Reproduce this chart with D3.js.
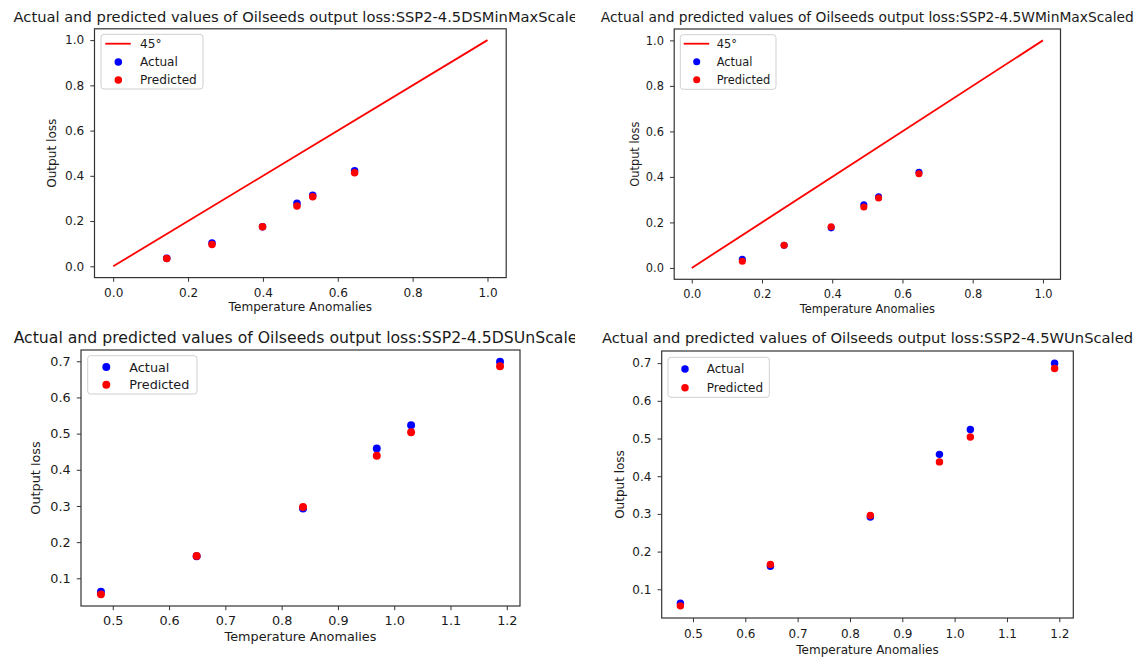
<!DOCTYPE html>
<html>
<head>
<meta charset="utf-8">
<script src="https://cdn.jsdelivr.net/npm/d3@7"></script>
<style>
  body { margin: 0; background: #fff; }
  text { font-family: "DejaVu Sans", sans-serif; fill: #1a1a1a; }
</style>
</head>
<body>
<div id="chart"></div>
<script>
// values
var tempDSMinMax   = [0.143, 0.264, 0.399, 0.491, 0.533, 0.645];
var actualDSMinMax = [0.035, 0.103, 0.175, 0.279, 0.314, 0.422];
var predDSMinMax   = [0.034, 0.096, 0.175, 0.267, 0.308, 0.414];

var tempWMinMax    = [0.144, 0.263, 0.397, 0.490, 0.532, 0.647];
var actualWMinMax  = [0.038, 0.100, 0.176, 0.278, 0.313, 0.420];
var predWMinMax    = [0.029, 0.100, 0.181, 0.268, 0.307, 0.414];

var tempDSUn       = [0.479, 0.649, 0.838, 0.969, 1.030, 1.188];
var actualDSUn     = [0.063, 0.161, 0.293, 0.459, 0.523, 0.699];
var predDSUn       = [0.0556, 0.162, 0.297, 0.439, 0.504, 0.686];

var tempWUn        = [0.476, 0.648, 0.839, 0.971, 1.030, 1.191];
var actualWUn      = [0.063, 0.161, 0.292, 0.458, 0.524, 0.700];
var predWUn        = [0.056, 0.166, 0.296, 0.438, 0.504, 0.686];

var diagLine = [0, 1];
var scaledTicks = [0.0, 0.2, 0.4, 0.6, 0.8, 1.0];
var unXTicks = [0.5, 0.6, 0.7, 0.8, 0.9, 1.0, 1.1, 1.2];
var unYTicks = [0.1, 0.2, 0.3, 0.4, 0.5, 0.6, 0.7];

var titlePrefix = "Actual and predicted values of Oilseeds output loss:";

var panels = [
  { title: titlePrefix + "SSP2-4.5DSMinMaxScaled", x: tempDSMinMax, actual: actualDSMinMax, pred: predDSMinMax,
    diag: true, xTicks: scaledTicks, yTicks: scaledTicks, clip: true,
    box: { l: 94.5, t: 28.8, r: 506.2, b: 277.6 }, titleY: 22, titleFs: 14.7, fs: 12.1,
    xlabOff: 33, ylabOff: 38.3, tickBase: 19,
    legend: { x: 101, y: 34.3, w: 102, h: 54.7, mx: 17.3, tx: 39, r0: 9.4, gap: 18.2 } },
  { title: titlePrefix + "SSP2-4.5WMinMaxScaled", x: tempWMinMax, actual: actualWMinMax, pred: predWMinMax,
    diag: true, xTicks: scaledTicks, yTicks: scaledTicks, clip: false,
    box: { l: 674.2, t: 29, r: 1060.5, b: 279.3 }, titleY: 22, titleFs: 13.8, fs: 11.4,
    xlabOff: 34, ylabOff: 35.5, tickBase: 19,
    legend: { x: 680.3, y: 34.7, w: 95.7, h: 54.6, mx: 16.4, tx: 36.4, r0: 9, gap: 18 } },
  { title: titlePrefix + "SSP2-4.5DSUnScaled", x: tempDSUn, actual: actualDSUn, pred: predDSUn,
    diag: false, xTicks: unXTicks, yTicks: unYTicks, clip: true,
    box: { l: 81, t: 350, r: 520, b: 606 }, titleY: 342.7, titleFs: 15.7, fs: 12.8,
    xlabOff: 34.7, ylabOff: 40.8, tickBase: 19,
    legend: { x: 87.7, y: 355.7, w: 109.3, h: 38.3, mx: 18.6, tx: 41.6, r0: 11.3, gap: 17.7 } },
  { title: titlePrefix + "SSP2-4.5WUnScaled", x: tempWUn, actual: actualWUn, pred: predWUn,
    diag: false, xTicks: unXTicks, yTicks: unYTicks, clip: false,
    box: { l: 661.7, t: 351, r: 1073.3, b: 618 }, titleY: 343.3, titleFs: 14.7, fs: 12.0,
    xlabOff: 36.3, ylabOff: 38.2, tickBase: 20.3,
    legend: { x: 668, y: 357.3, w: 101.3, h: 40, mx: 17, tx: 38.7, r0: 11.7, gap: 18.7 } }
];

var svg = d3.select("#chart").append("svg")
    .attr("width", 1141)
    .attr("height", 661);

svg.append("rect").attr("width", 1141).attr("height", 661).attr("fill", "#fff");

// the right-hand figures sit on top of the long left titles
svg.append("defs").append("clipPath").attr("id", "leftClip")
  .append("rect").attr("x", 0).attr("y", 0).attr("width", 575).attr("height", 661);

// matplotlib style 5% margins
function padded(ext) {
  var span = ext[1] - ext[0];
  return [ext[0] - span * 0.05, ext[1] + span * 0.05];
}

panels.forEach(function(p) {
  var box = p.box;
  var xs = p.x.slice(), ys = p.actual.concat(p.pred);
  if (p.diag) { xs = xs.concat(diagLine); ys = ys.concat(diagLine); }

  var x = d3.scaleLinear().domain(padded(d3.extent(xs))).range([box.l, box.r]);
  var y = d3.scaleLinear().domain(padded(d3.extent(ys))).range([box.b, box.t]);

  var g = svg.append("g");
  var tickLen = 4.2;
  var fmt = d3.format(".1f");

  // x axis
  var gx = g.append("g")
      .attr("transform", "translate(0," + box.b + ")")
      .call(d3.axisBottom(x).tickValues(p.xTicks).tickFormat(fmt)
            .tickSize(tickLen).tickPadding(p.tickBase - 0.71 * p.fs - tickLen));
  gx.select(".domain").remove();
  gx.selectAll("line").attr("stroke", "#333").attr("stroke-width", 1);
  gx.selectAll("text").attr("font-size", p.fs).attr("fill", "#1a1a1a")
    .style("font-family", "DejaVu Sans, sans-serif");

  // y axis
  var gy = g.append("g")
      .attr("transform", "translate(" + box.l + ",0)")
      .call(d3.axisLeft(y).tickValues(p.yTicks).tickFormat(fmt)
            .tickSize(tickLen).tickPadding(6.1));
  gy.select(".domain").remove();
  gy.selectAll("line").attr("stroke", "#333").attr("stroke-width", 1);
  gy.selectAll("text").attr("font-size", p.fs).attr("fill", "#1a1a1a")
    .style("font-family", "DejaVu Sans, sans-serif");

  // 45 degree reference
  if (p.diag) {
    g.append("line")
      .attr("x1", x(diagLine[0])).attr("y1", y(diagLine[0]))
      .attr("x2", x(diagLine[1])).attr("y2", y(diagLine[1]))
      .attr("stroke", "#ff0000")
      .attr("stroke-width", 1.8);
  }

  var r = 0.31 * p.fs;
  g.selectAll("circle.actual")
    .data(p.x.map(function(v, i) { return [v, p.actual[i]]; }))
    .enter().append("circle")
    .attr("class", "actual")
    .attr("cx", d => x(d[0])).attr("cy", d => y(d[1])).attr("r", r)
    .attr("fill", "#0000ff");

  g.selectAll("circle.pred")
    .data(p.x.map(function(v, i) { return [v, p.pred[i]]; }))
    .enter().append("circle")
    .attr("class", "pred")
    .attr("cx", d => x(d[0])).attr("cy", d => y(d[1])).attr("r", r)
    .attr("fill", "#ff0000");

  // spines
  g.append("rect")
    .attr("x", box.l).attr("y", box.t)
    .attr("width", box.r - box.l).attr("height", box.b - box.t)
    .attr("fill", "none").attr("stroke", "#333").attr("stroke-width", 1.2);

  // legend
  var L = p.legend;
  var lg = g.append("g").attr("transform", "translate(" + L.x + "," + L.y + ")");
  lg.append("rect").attr("width", L.w).attr("height", L.h).attr("rx", 3)
    .attr("fill", "#fff").attr("fill-opacity", 0.8)
    .attr("stroke", "#d0d0d0").attr("stroke-width", 1);
  var items = p.diag ? ["45°", "Actual", "Predicted"] : ["Actual", "Predicted"];
  items.forEach(function(name, i) {
    var cy = L.r0 + i * L.gap;
    if (name === "45°") {
      lg.append("line").attr("x1", L.mx - 13).attr("x2", L.mx + 12.5)
        .attr("y1", cy).attr("y2", cy)
        .attr("stroke", "#ff0000").attr("stroke-width", 1.8);
    } else {
      lg.append("circle").attr("cx", L.mx).attr("cy", cy).attr("r", r)
        .attr("fill", name === "Actual" ? "#0000ff" : "#ff0000");
    }
    lg.append("text").attr("x", L.tx).attr("y", cy).attr("dy", "0.36em")
      .attr("font-size", p.fs).text(name);
  });

  // labels
  g.append("text")
    .attr("x", (box.l + box.r) / 2).attr("y", box.b + p.xlabOff)
    .attr("text-anchor", "middle").attr("font-size", p.fs)
    .text("Temperature Anomalies");

  g.append("text")
    .attr("transform", "translate(" + (box.l - p.ylabOff) + "," + (box.t + box.b) / 2 + ") rotate(-90)")
    .attr("text-anchor", "middle").attr("font-size", p.fs)
    .text("Output loss");

  var title = g.append("text")
    .attr("x", (box.l + box.r) / 2).attr("y", p.titleY)
    .attr("text-anchor", "middle").attr("font-size", p.titleFs)
    .text(p.title);
  if (p.clip) title.attr("clip-path", "url(#leftClip)");
});
</script>
</body>
</html>
